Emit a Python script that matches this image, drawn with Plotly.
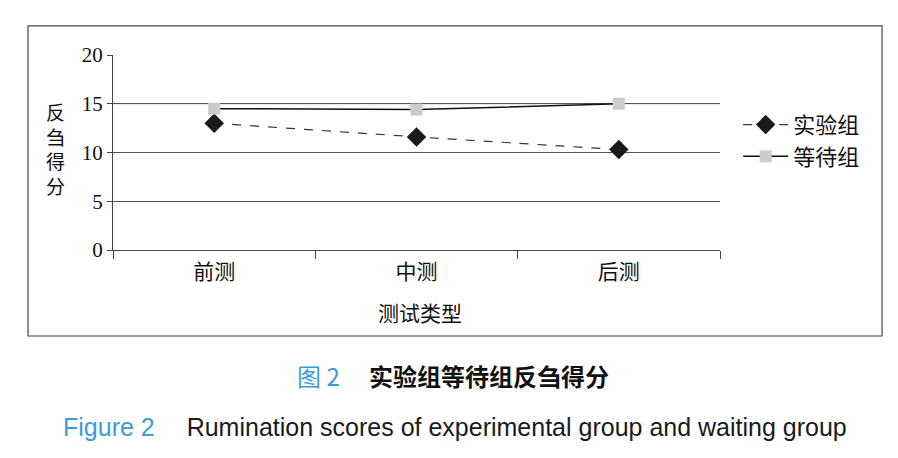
import plotly.graph_objects as go

# data
stages = ['前测', '中测', '后测']
experimental = [13.0, 11.6, 10.3]
waiting = [14.5, 14.4, 15.0]
y_ticks = [0, 5, 10, 15, 20]
y_title = '反刍得分'

serif = 'Liberation Serif, Noto Sans CJK SC'
cjk = 'Noto Sans CJK SC'
blue = '#3d9bd6'

fig = go.Figure()

fig.add_trace(go.Scatter(
    x=stages, y=experimental, name='实验组', mode='lines+markers',
    line=dict(color='#333333', width=1.2, dash='dash'),
    marker=dict(symbol='diamond', size=15, color='#1a1a1a'),
))
fig.add_trace(go.Scatter(
    x=stages, y=waiting, name='等待组', mode='lines+markers',
    line=dict(color='#111111', width=1.5),
    marker=dict(symbol='square', size=12, color='#cccccc'),
))

# outer frame around the chart
fig.add_shape(type='rect', xref='paper', yref='paper',
              x0=-0.14, x1=1.267, y0=-0.441, y1=1.149,
              line=dict(color='#444444', width=1.2), layer='below')
# lighter grid line at 15
fig.add_shape(type='line', xref='paper', yref='y', x0=0, x1=1, y0=15, y1=15,
              line=dict(color='#aaaaaa', width=1.2), layer='below')

# vertical y-axis title, one character per line
fig.add_annotation(text='<br>'.join(y_title), xref='paper', yref='paper',
                   x=-0.0955, y=0.52, showarrow=False, align='center',
                   xanchor='center', yanchor='middle',
                   font=dict(family=cjk, size=19, color='#111111'))

fig.add_annotation(text='测试类型', xref='paper', yref='paper',
                   x=0.505, y=-0.32, showarrow=False,
                   xanchor='center', yanchor='middle',
                   font=dict(family=cjk, size=21, color='#111111'))

# captions
fig.add_annotation(
    text=f'<span style="color:{blue}">图 2</span>\u2003 <b>实验组等待组反刍得分</b>',
    xref='paper', yref='paper', x=0.56, y=-0.646, showarrow=False,
    xanchor='center', yanchor='middle',
    font=dict(family=cjk, size=24, color='#111111'))
fig.add_annotation(
    text=f'<span style="color:{blue}">Figure 2</span>\u2003 Rumination scores of experimental group and waiting group',
    xref='paper', yref='paper', x=0.563, y=-0.908, showarrow=False,
    xanchor='center', yanchor='middle',
    font=dict(family='Liberation Sans, Arial', size=25, color='#1a1a1a'))

# page body adds an 8px offset, so the figure is 8px smaller than the window
fig.update_layout(
    width=890, height=450,
    margin=dict(l=105, r=178, t=47, b=208),
    plot_bgcolor='white', paper_bgcolor='white',
    showlegend=True,
    legend=dict(x=1.03, y=0.56, xanchor='left', yanchor='middle',
                font=dict(family=cjk, size=22, color='#111111'),
                itemwidth=45, tracegroupgap=2, bgcolor='rgba(0,0,0,0)'),
    xaxis=dict(
        type='category', range=[-0.5, 2.5], tickson='boundaries',
        ticks='outside', ticklen=8, tickcolor='#444444',
        showline=True, linecolor='#444444', linewidth=1,
        showgrid=False, ticklabelstandoff=3,
        tickfont=dict(family=cjk, size=21, color='#111111'),
    ),
    yaxis=dict(
        range=[0, 20], tickvals=y_ticks,
        ticks='outside', ticklen=5, tickcolor='#444444',
        showline=True, linecolor='#444444', linewidth=1,
        showgrid=True, gridcolor='#555555', gridwidth=1,
        zeroline=False,
        tickfont=dict(family=serif, size=21, color='#111111'),
    ),
)

fig.write_html('out.html')
